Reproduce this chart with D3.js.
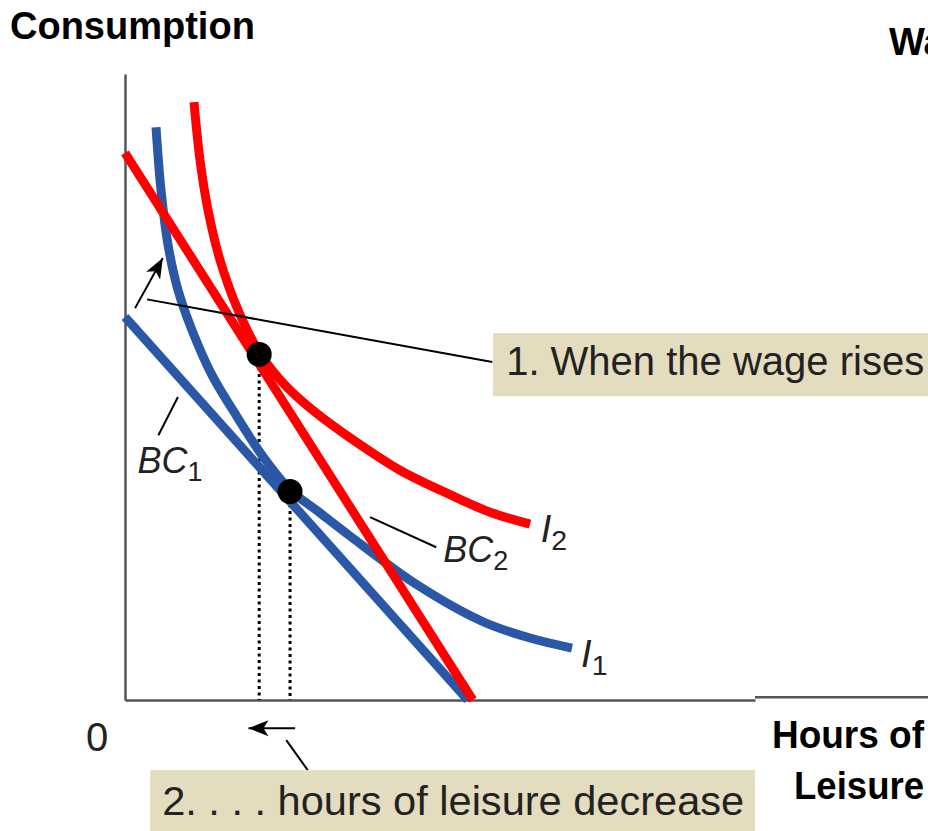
<!DOCTYPE html>
<html>
<head>
<meta charset="utf-8">
<script src="https://cdn.jsdelivr.net/npm/d3@7"></script>
<style>
  body { margin: 0; background: #fff; }
  svg { display: block; }
</style>
</head>
<body>
<script>
// budget lines: [leisure, consumption] end points
const bc1 = [[0, 61.2], [54.4, 0]];
const bc2 = [[0, 87.4], [55.2, 0]];

// indifference curves
const i1 = [[4.92, 91.5], [5.71, 81.5], [6.83, 72.7], [8.41, 65.5], [10.63, 59.1],
  [13.81, 51.9], [17.62, 45.5], [21.75, 39.1], [26.19, 33.6], [30.95, 29.9],
  [35.71, 26.2], [46.35, 18.4], [56.83, 12.5], [64.29, 9.9], [70.95, 8.3]];
const i2 = [[10.95, 95.5], [11.9, 86.3], [13.17, 78.3], [15.08, 70.3], [17.94, 62.3],
  [21.27, 55.6], [25.4, 50.3], [30.16, 46.0], [35.71, 41.9], [43.65, 36.7],
  [51.59, 32.8], [57.94, 30.0], [64.29, 28.1]];

// optimum points
const optima = [[21.3, 55.2], [26.2, 33.3]];

const width = 928;
const height = 831;

const x = d3.scaleLinear().domain([0, 100]).range([125, 755]);
const y = d3.scaleLinear().domain([0, 100]).range([700, 74]);

const red = "#ff0000";
const blue = "#2b58a6";
const boxFill = "#e4dcbf";
const sans = "Liberation Sans, Arial, sans-serif";

const svg = d3.select("body")
  .append("svg")
  .attr("width", width)
  .attr("height", height);

// axes, no ticks
svg.append("g")
  .attr("transform", `translate(0, ${y(0)})`)
  .call(d3.axisBottom(x).tickValues([]).tickSizeOuter(0))
  .call(g => g.select(".domain").attr("stroke", "#555").attr("stroke-width", 2.5));

svg.append("g")
  .attr("transform", `translate(${x(0)}, 0)`)
  .call(d3.axisLeft(y).tickValues([]).tickSizeOuter(0))
  .call(g => g.select(".domain").attr("stroke", "#555").attr("stroke-width", 2.5));

// the axis continues past the cut, a hair higher
svg.append("line")
  .attr("x1", x(100)).attr("x2", width)
  .attr("y1", y(0.45)).attr("y2", y(0.45))
  .attr("stroke", "#555").attr("stroke-width", 2.5);

// dotted drop lines
svg.selectAll(".drop")
  .data(optima)
  .enter()
  .append("line")
  .attr("class", "drop")
  .attr("x1", d => x(d[0])).attr("x2", d => x(d[0]))
  .attr("y1", d => y(d[1])).attr("y2", y(0))
  .attr("stroke", "#000")
  .attr("stroke-width", 3)
  .attr("stroke-dasharray", "3,3.5");

const straight = d3.line().x(d => x(d[0])).y(d => y(d[1]));
const curved = d3.line().x(d => x(d[0])).y(d => y(d[1])).curve(d3.curveCatmullRom.alpha(0.5));

svg.append("path").attr("d", straight(bc1))
  .attr("fill", "none").attr("stroke", blue).attr("stroke-width", 9);
svg.append("path").attr("d", curved(i1))
  .attr("fill", "none").attr("stroke", blue).attr("stroke-width", 9);
svg.append("path").attr("d", curved(i2))
  .attr("fill", "none").attr("stroke", red).attr("stroke-width", 9);
svg.append("path").attr("d", straight(bc2))
  .attr("fill", "none").attr("stroke", red).attr("stroke-width", 9);

svg.selectAll(".opt")
  .data(optima)
  .enter()
  .append("circle")
  .attr("class", "opt")
  .attr("cx", d => x(d[0]))
  .attr("cy", d => y(d[1]))
  .attr("r", 12.5)
  .attr("fill", "#000");

function leader(x1, y1, x2, y2, arrow) {
  const ax = x(x1), ay = y(y1), bx = x(x2), by = y(y2);
  svg.append("line")
    .attr("x1", ax).attr("y1", ay)
    .attr("x2", bx).attr("y2", by)
    .attr("stroke", "#000").attr("stroke-width", 2);
  if (arrow) {
    // solid head at the end point
    const ang = Math.atan2(by - ay, bx - ax) * 180 / Math.PI;
    svg.append("path")
      .attr("d", "M0,0 L-20,-8 L-15,0 L-20,8 Z")
      .attr("transform", `translate(${bx},${by}) rotate(${ang})`)
      .attr("fill", "#000");
  }
}

// annotation 1
leader(3.5, 64.0, 58.3, 54.0);
leader(1.6, 62.6, 6.0, 70.6, true);
svg.append("rect")
  .attr("x", x(58.4)).attr("y", y(58.6))
  .attr("width", width - x(58.4)).attr("height", 63)
  .attr("fill", boxFill);
svg.append("text")
  .attr("x", x(60.5)).attr("y", y(51.9))
  .attr("font-family", sans)
  .attr("font-size", 40)
  .attr("fill", "#222")
  .text("1. When the wage rises");

// annotation 2
leader(27.0, -4.5, 19.6, -4.5, true);
leader(25.6, -6.4, 29.0, -11.2);
svg.append("rect")
  .attr("x", x(4.0)).attr("y", y(-11.2))
  .attr("width", x(100) - x(4.0)).attr("height", 62)
  .attr("fill", boxFill);
svg.append("text")
  .attr("x", x(5.9)).attr("y", y(-18.4))
  .attr("font-family", sans)
  .attr("font-size", 40)
  .attr("textLength", 582)
  .attr("lengthAdjust", "spacingAndGlyphs")
  .attr("fill", "#222")
  .text("2. . . . hours of leisure decrease");

// curve labels
leader(8.4, 48.4, 5.3, 42.3);
leader(38.9, 29.2, 49.4, 24.4);

function subLabel(px, py, main, sub, size) {
  const t = svg.append("text")
    .attr("x", x(px)).attr("y", y(py))
    .attr("font-family", sans)
    .attr("font-style", "italic")
    .attr("font-size", size)
    .attr("fill", "#222");
  t.append("tspan").text(main);
  t.append("tspan").attr("dy", 8).attr("font-size", size * 0.75).attr("font-style", "normal").text(sub);
}
subLabel(2.0, 36.2, "BC", "1", 36);
subLabel(50.5, 22.0, "BC", "2", 36);
subLabel(66.0, 25.2, "I", "2", 38);
subLabel(72.4, 5.3, "I", "1", 38);

// axis labels
svg.append("text")
  .attr("x", 10).attr("y", 39)
  .attr("font-family", sans).attr("font-weight", "bold").attr("font-size", 38)
  .text("Consumption");
svg.append("text")
  .attr("x", 889).attr("y", 55)
  .attr("font-family", sans).attr("font-weight", "bold").attr("font-size", 38)
  .text("Wage");
svg.append("text")
  .attr("x", 924).attr("y", 748)
  .attr("text-anchor", "end")
  .attr("font-family", sans).attr("font-weight", "bold").attr("font-size", 38)
  .attr("textLength", 152).attr("lengthAdjust", "spacingAndGlyphs")
  .text("Hours of");
svg.append("text")
  .attr("x", 924).attr("y", 799)
  .attr("text-anchor", "end")
  .attr("font-family", sans).attr("font-weight", "bold").attr("font-size", 38)
  .attr("textLength", 130).attr("lengthAdjust", "spacingAndGlyphs")
  .text("Leisure");
svg.append("text")
  .attr("x", 97).attr("y", 751)
  .attr("text-anchor", "middle")
  .attr("font-family", sans)
  .attr("font-size", 40)
  .attr("fill", "#222")
  .text("0");
</script>
</body>
</html>
